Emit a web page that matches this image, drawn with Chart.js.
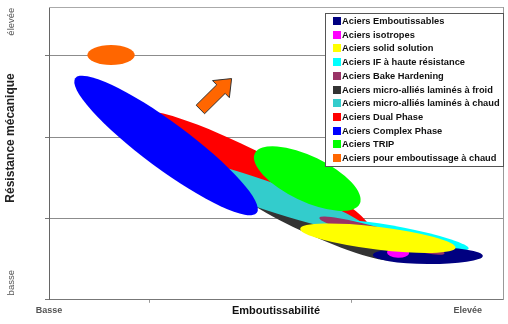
<!DOCTYPE html>
<html>
<head>
<meta charset="utf-8">
<script src="https://cdn.jsdelivr.net/npm/chart.js@4.4.1/dist/chart.umd.min.js"></script>
<style>
  html, body { margin: 0; padding: 0; background: #fff; }
</style>
</head>
<body>
<canvas id="chart" width="508" height="324"></canvas>
<script>
// familles d'aciers, dans l'ordre de la légende
const steels = [
    'Aciers Emboutissables',
    'Aciers isotropes',
    'Aciers solid solution',
    'Aciers IF à haute résistance',
    'Aciers Bake Hardening',
    'Aciers micro-alliés laminés à froid',
    'Aciers micro-alliés laminés à chaud',
    'Aciers Dual Phase',
    'Aciers Complex Phase',
    'Aciers TRIP',
    'Aciers pour emboutissage à chaud'
];
const colors = ['#000080', '#ff00ff', '#ffff00', '#00ffff', '#993366', '#333333',
                '#33cccc', '#ff0000', '#0000ff', '#00ff00', '#ff6600'];

// chaque domaine = une ellipse entre deux extrémités (emboutissabilité, résistance)
const xStart = [3.21, 3.35, 2.49, 2.85, 2.68, 1.84, 1.01, 0.89, 0.26, 2.04, 0.38];
const yStart = [0.55, 0.585, 0.875, 0.95, 1.01, 1.39, 1.77, 2.29, 2.725, 1.80, 3.01];
const xEnd   = [4.30, 3.57, 4.03, 4.16, 3.92, 3.43, 3.17, 3.19, 2.06, 3.08, 0.85];
const yEnd   = [0.54, 0.575, 0.64, 0.63, 0.57, 0.506, 0.85, 0.84, 1.07, 1.18, 3.01];
// demi-épaisseur, en unités de résistance
const halfWidth = [0.105, 0.062, 0.14, 0.099, 0.086, 0.16, 0.173, 0.247, 0.284, 0.277, 0.123];
// ordre de superposition (du fond vers le dessus)
const drawOrder = [7, 5, 6, 9, 3, 0, 4, 1, 2, 8, 10];

// flèche "vers le haut à droite"
const arrowFrom = [1.50, 2.34];
const arrowTo = [1.81, 2.72];

// axes
const xTickAt = [0, 1, 2.25, 3, 4.15];
const xTickText = ['Basse', '', 'Emboutissabilité', '', 'Elevée'];
const yGridAt = [0, 1, 2, 3];
const yLabelAt = [0.21, 1.99, 3.42];
const yLabelText = ['basse', 'Résistance mécanique', 'élevée'];

const FONT = '"Liberation Sans", Arial, sans-serif';

const datasets = steels.map((name, i) => ({
    label: name,
    data: [{ x: xStart[i], y: yStart[i] }, { x: xEnd[i], y: yEnd[i] }],
    backgroundColor: colors[i],
    borderColor: colors[i],
    pointRadius: 0,
    showLine: false
}));

const ellipsePlugin = {
    id: 'ellipses',
    beforeDatasetsDraw(chart) {
        const ctx = chart.ctx;
        const area = chart.chartArea;
        const ys = chart.scales.y;
        const xs = chart.scales.x;
        const unit = Math.abs(ys.getPixelForValue(1) - ys.getPixelForValue(0));
        ctx.save();
        ctx.beginPath();
        ctx.rect(area.left + 1, area.top, area.right - area.left - 1, area.bottom - area.top - 1);
        ctx.clip();
        drawOrder.forEach(i => {
            const pts = chart.getDatasetMeta(i).data;
            const p0 = pts[0], p1 = pts[1];
            const cx = (p0.x + p1.x) / 2, cy = (p0.y + p1.y) / 2;
            const rx = Math.hypot(p1.x - p0.x, p1.y - p0.y) / 2;
            const rot = Math.atan2(p1.y - p0.y, p1.x - p0.x);
            ctx.beginPath();
            ctx.ellipse(cx, cy, rx, halfWidth[i] * unit, rot, 0, Math.PI * 2);
            ctx.fillStyle = colors[i];
            ctx.fill();
        });

        // flèche
        const tx = xs.getPixelForValue(arrowFrom[0]), ty = ys.getPixelForValue(arrowFrom[1]);
        const hx = xs.getPixelForValue(arrowTo[0]), hy = ys.getPixelForValue(arrowTo[1]);
        const len = Math.hypot(hx - tx, hy - ty);
        const ux = (hx - tx) / len, uy = (hy - ty) / len;
        const nx = -uy, ny = ux;
        const sw = 6, hw = 12, hl = 15;
        const bx = hx - ux * hl, by = hy - uy * hl;
        ctx.beginPath();
        ctx.moveTo(tx + nx * sw, ty + ny * sw);
        ctx.lineTo(bx + nx * sw, by + ny * sw);
        ctx.lineTo(bx + nx * hw, by + ny * hw);
        ctx.lineTo(hx, hy);
        ctx.lineTo(bx - nx * hw, by - ny * hw);
        ctx.lineTo(bx - nx * sw, by - ny * sw);
        ctx.lineTo(tx - nx * sw, ty - ny * sw);
        ctx.closePath();
        ctx.fillStyle = '#ff6600';
        ctx.fill();
        ctx.lineWidth = 1;
        ctx.strokeStyle = '#333';
        ctx.stroke();
        ctx.restore();
    },
    afterDraw(chart) {
        const ctx = chart.ctx;
        const area = chart.chartArea;
        const ys = chart.scales.y;
        ctx.save();

        // libellés de l'axe vertical, écrits en travers
        yLabelText.forEach((txt, i) => {
            const y = ys.getPixelForValue(yLabelAt[i]);
            ctx.save();
            ctx.translate(11, y);
            ctx.rotate(-Math.PI / 2);
            ctx.textAlign = 'center';
            ctx.textBaseline = 'middle';
            if (i === 1) {
                ctx.font = 'bold 12px ' + FONT;
                ctx.fillStyle = '#222';
            } else {
                ctx.font = '9.5px ' + FONT;
                ctx.fillStyle = '#555';
            }
            ctx.fillText(txt, 0, 0);
            ctx.restore();
        });

        // légende dans un cadre
        const w = 179, h = 154;
        const left = area.right - 178, top = area.top + 6;
        ctx.fillStyle = '#fff';
        ctx.fillRect(left, top, w, h);
        ctx.strokeStyle = '#555';
        ctx.lineWidth = 1;
        ctx.strokeRect(left + 0.5, top + 0.5, w - 1, h - 1);
        ctx.font = 'bold 9.3px ' + FONT;
        ctx.textBaseline = 'middle';
        ctx.textAlign = 'left';
        steels.forEach((name, i) => {
            const y = top + 8 + i * 13.7;
            ctx.fillStyle = colors[i];
            ctx.fillRect(left + 8, Math.round(y - 4), 8, 8);
            ctx.fillStyle = '#111';
            ctx.fillText(name, left + 17, y + 0.5);
        });
        ctx.restore();
    }
};

new Chart(document.getElementById('chart'), {
    type: 'scatter',
    data: { datasets: datasets },
    plugins: [ellipsePlugin],
    options: {
        responsive: false,
        animation: false,
        events: [],
        layout: { padding: { left: 45, top: 7, right: 5, bottom: 4 } },
        plugins: {
            legend: { display: false },
            tooltip: { enabled: false }
        },
        scales: {
            x: {
                type: 'linear', min: 0, max: 4.5,
                afterBuildTicks: s => { s.ticks = xTickAt.map(v => ({ value: v })); },
                grid: {
                    drawOnChartArea: false,
                    tickLength: 3,
                    color: c => xTickText[c.index] === '' ? '#999' : 'rgba(0,0,0,0)'
                },
                border: { color: '#777' },
                ticks: {
                    autoSkip: false,
                    maxRotation: 0,
                    padding: 2,
                    callback: (v, i) => xTickText[i],
                    font: c => xTickText[c.index] === 'Emboutissabilité'
                        ? { family: FONT, size: 11, weight: 'bold' }
                        : { family: FONT, size: 9, weight: 'bold' },
                    color: c => xTickText[c.index] === 'Emboutissabilité' ? '#111' : '#555'
                }
            },
            y: {
                type: 'linear', min: 0, max: 3.6,
                afterBuildTicks: s => { s.ticks = yGridAt.map(v => ({ value: v })); },
                grid: {
                    color: c => c.tick && c.tick.value === 0 ? 'rgba(0,0,0,0)' : '#8c8c8c',
                    tickColor: '#777',
                    tickLength: 4
                },
                border: { color: '#666' },
                ticks: { display: false }
            },
            x2: {
                type: 'linear', position: 'top',
                grid: { display: false, drawTicks: false },
                ticks: { display: false },
                border: { color: '#aaa' }
            },
            y2: {
                type: 'linear', position: 'right',
                grid: { display: false, drawTicks: false },
                ticks: { display: false },
                border: { color: '#999' }
            }
        }
    }
});
</script>
</body>
</html>
